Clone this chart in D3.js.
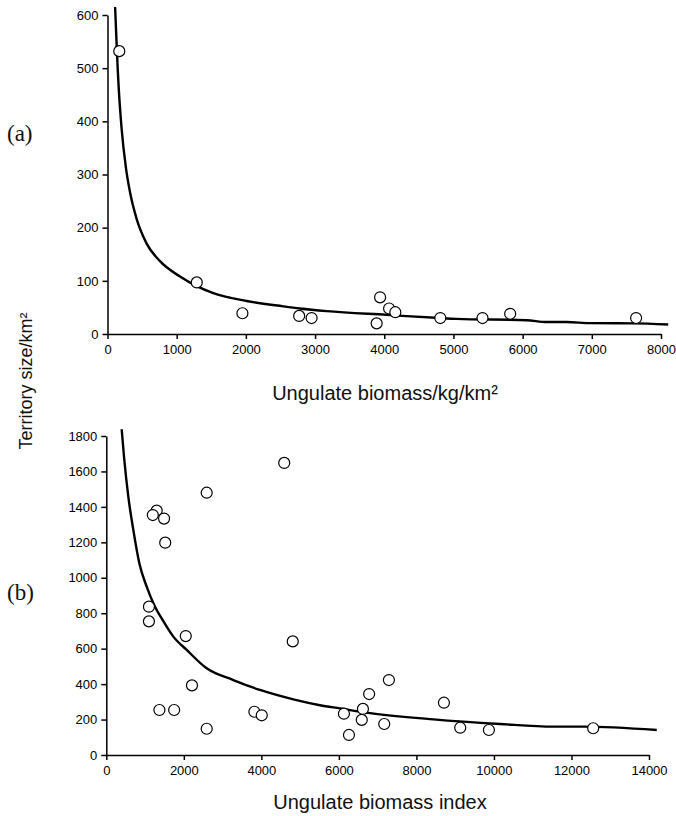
<!DOCTYPE html>
<html>
<head>
<meta charset="utf-8">
<script src="https://cdn.jsdelivr.net/npm/d3@7"></script>
<style>
  body { margin: 0; background: #fff; }
  .axis path, .axis line { stroke: #000; stroke-width: 1.5; }
  .axis text { font-family: "Liberation Sans", Arial, sans-serif; font-size: 13px; fill: #000; }
  .title { font-family: "Liberation Sans", Arial, sans-serif; font-size: 20px; fill: #111; }
  .ytitle { font-family: "Liberation Sans", Arial, sans-serif; font-size: 18px; fill: #111; }
  .panel { font-family: "Liberation Serif", "Times New Roman", serif; font-size: 23px; fill: #111; }
</style>
</head>
<body>
<div class="chart"></div>
<script>
// panel (a): territory size vs ungulate biomass (kg/km2)
let aX = [170, 1290, 1950, 2770, 2950, 3890, 3940, 4070, 4160, 4810, 5420, 5820, 7640];
let aY = [532, 97, 39, 34, 30, 20, 69, 48, 41, 30, 30, 38, 30];
// fitted curve (a)
let aCurveX = [110, 133, 147, 162, 205, 267, 325, 422, 566, 759, 1048, 1289, 1529, 2012, 2540, 2780, 3168, 4035, 4805, 5046, 6058, 6347, 6636, 6973, 7598, 8104];
let aCurveY = [615, 542, 500, 463, 385, 312, 267, 216, 170, 137, 108, 90, 77, 62, 52, 48, 43, 36, 30, 28.5, 26, 22.5, 22.5, 20.5, 20, 18];
let aXTicks = [0, 1000, 2000, 3000, 4000, 5000, 6000, 7000, 8000];
let aYTicks = [0, 100, 200, 300, 400, 500, 600];

// panel (b): territory size vs ungulate biomass index
let bX = [4590, 2590, 1300, 1200, 1490, 1520, 1100, 1100, 2050, 4810, 2210, 1370, 1750, 2590, 3820, 4010,
          6130, 6260, 6590, 6620, 6780, 7170, 7290, 8710, 9130, 9870, 12560];
let bY = [1648, 1480, 1379, 1354, 1334, 1198, 837, 754, 671, 641, 393, 254, 254, 148, 244, 224,
          233, 113, 198, 260, 344, 175, 423, 295, 154, 141, 151];
let bCurveX = [397, 457, 568, 697, 852, 1042, 1238, 1471, 1729, 2074, 2590, 3277, 3965, 4825, 5513, 6029, 6718, 8437, 10157, 11533, 12307, 14200];
let bCurveY = [1838, 1683, 1458, 1270, 1082, 950, 845, 755, 668, 593, 489, 423, 367, 314, 281, 263, 239, 201, 175, 160, 160, 141];
let bXTicks = [0, 2000, 4000, 6000, 8000, 10000, 12000, 14000];
let bYTicks = [0, 200, 400, 600, 800, 1000, 1200, 1400, 1600, 1800];

let width = 676, height = 816;

let svg = d3.select('.chart')
  .append('svg')
  .attr('width', width)
  .attr('height', height)

let drawPanel = function (opt) {
  let x = d3.scaleLinear().domain(opt.xDomain).range(opt.xRange);
  let y = d3.scaleLinear().domain(opt.yDomain).range(opt.yRange);

  //x axis
  svg.append('g')
    .attr('class', 'axis')
    .attr('transform', 'translate(0,' + opt.yRange[0] + ')')
    .call(d3.axisBottom(x).tickValues(opt.xTicks).tickSize(5).tickSizeOuter(0).tickPadding(6).tickFormat(d3.format('d')));
  //y axis
  svg.append('g')
    .attr('class', 'axis')
    .attr('transform', 'translate(' + opt.xRange[0] + ',0)')
    .call(d3.axisLeft(y).tickValues(opt.yTicks).tickSize(5).tickSizeOuter(0).tickPadding(4).tickFormat(d3.format('d')));

  //curve
  let pts = opt.cx.map(function (d, i) { return [d, opt.cy[i]]; });
  svg.append('path')
    .datum(pts)
    .attr('fill', 'none')
    .attr('stroke', '#000')
    .attr('stroke-width', 2.4)
    .attr('d', d3.line()
      .x(function (d) { return x(d[0]); })
      .y(function (d) { return y(d[1]); })
      .curve(d3.curveMonotoneX));

  //points
  svg.append('g')
    .selectAll('circle')
    .data(opt.px.map(function (d, i) { return [d, opt.py[i]]; }))
    .enter()
    .append('circle')
    .attr('cx', function (d) { return x(d[0]); })
    .attr('cy', function (d) { return y(d[1]); })
    .attr('r', 5.5)
    .attr('fill', '#fff')
    .attr('stroke', '#000')
    .attr('stroke-width', 1.2);

  //x title
  svg.append('text')
    .attr('class', 'title')
    .attr('x', opt.titleX)
    .attr('y', opt.titleY)
    .attr('text-anchor', 'middle')
    .text(opt.title);

  //panel label
  svg.append('text')
    .attr('class', 'panel')
    .attr('x', 7)
    .attr('y', opt.labelY)
    .text(opt.label);
}

drawPanel({
  xDomain: [0, 8000], xRange: [107.5, 661],
  yDomain: [0, 600], yRange: [334, 15],
  xTicks: aXTicks, yTicks: aYTicks,
  cx: aCurveX, cy: aCurveY, px: aX, py: aY,
  title: 'Ungulate biomass/kg/km²', titleX: 385, titleY: 400,
  label: '(a)', labelY: 141
});

drawPanel({
  xDomain: [0, 14000], xRange: [106.3, 649],
  yDomain: [0, 1800], yRange: [755, 436],
  xTicks: bXTicks, yTicks: bYTicks,
  cx: bCurveX, cy: bCurveY, px: bX, py: bY,
  title: 'Ungulate biomass index', titleX: 380, titleY: 809,
  label: '(b)', labelY: 600
});

//shared y title
svg.append('text')
  .attr('class', 'ytitle')
  .attr('transform', 'translate(32,381) rotate(-90)')
  .attr('text-anchor', 'middle')
  .text('Territory size/km²');
</script>
</body>
</html>
